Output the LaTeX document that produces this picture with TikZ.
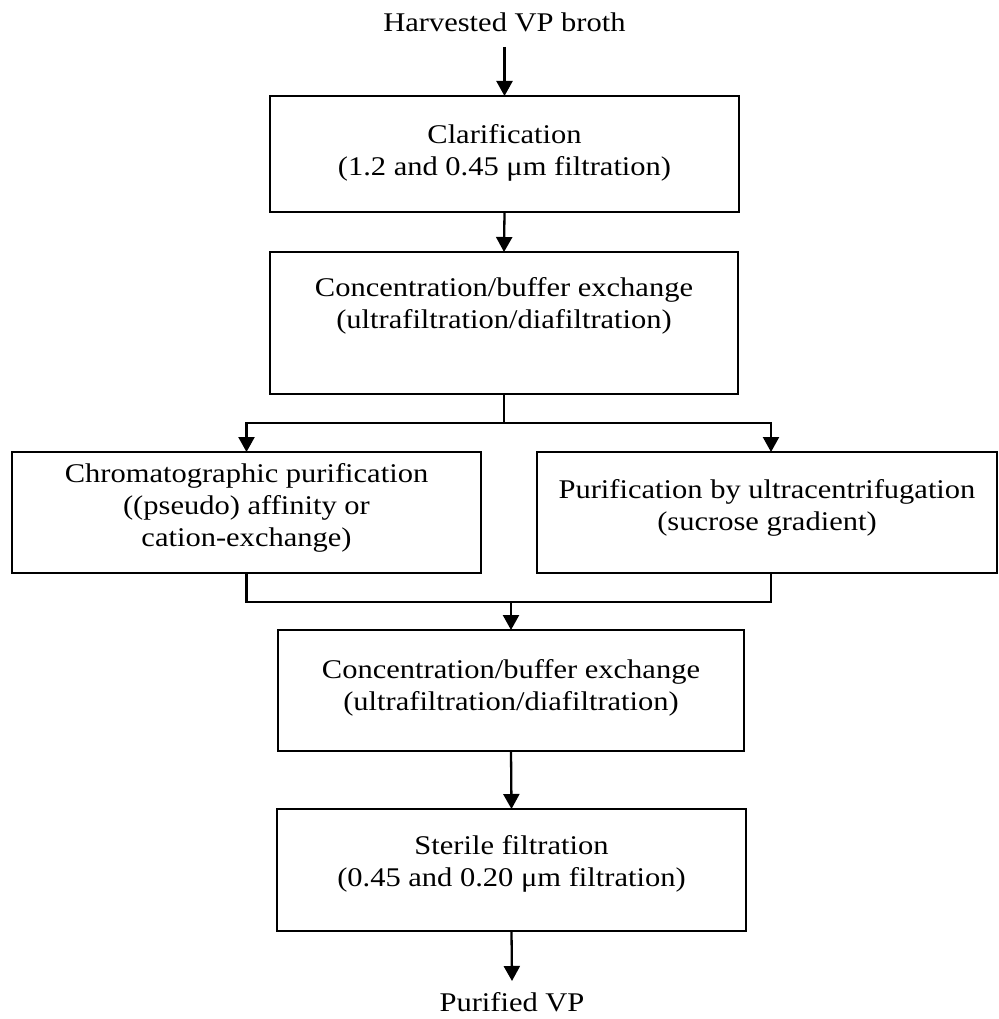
\documentclass[tikz,border=0pt]{standalone}
\usepackage{fontspec}
\setmainfont{Liberation Serif}[FakeStretch=1.13]
\usetikzlibrary{arrows.meta}
\begin{document}
\begin{tikzpicture}[x=1pt,y=-1pt,
  box/.style={draw=black,line width=2.3pt,rectangle,inner sep=0pt,outer sep=0pt},
  txt/.style={inner sep=0pt,outer sep=0pt,align=center,font=\fontsize{27pt}{32pt}\selectfont},
  conn/.style={draw=black,line width=2.3pt},
  arr/.style={conn,-{Triangle[width=16pt,length=15pt]}}]
\useasboundingbox (0,0) rectangle (998,1019);
% labels top and bottom
\node[txt,anchor=base] (top) at (504.5,32) {Harvested VP broth};
\node[txt,anchor=base] (pv) at (512,1011) {Purified VP};
% boxes
\node[box,minimum width=469pt,minimum height=116pt] (b1) at (504.5,154) {};
\node[box,minimum width=468pt,minimum height=142pt] (b2) at (504,323) {};
\node[box,minimum width=469pt,minimum height=121pt] (L) at (246.5,512.5) {};
\node[box,minimum width=460pt,minimum height=121pt] (R) at (767,512.5) {};
\node[box,minimum width=466pt,minimum height=121pt] (b4) at (511,690.5) {};
\node[box,minimum width=469pt,minimum height=122pt] (b5) at (511.5,870) {};
% texts
\node[txt] (t1) at (504.5,152.5) {Clarification\\(1.2 and 0.45 μm filtration)};
\node[txt] (t2) at (504,306) {Concentration/buffer exchange\\(ultrafiltration/diafiltration)};
\node[txt] (tL) at (246.5,508) {Chromatographic purification\\((pseudo) affinity or\\cation-exchange)};
\node[txt] (tR) at (767,508) {Purification by ultracentrifugation\\(sucrose gradient)};
\node[txt] (t4) at (511,687.5) {Concentration/buffer exchange\\(ultrafiltration/diafiltration)};
\node[txt] (t5) at (511.5,863.5) {Sterile filtration\\(0.45 and 0.20 μm filtration)};
% connectors
\draw[arr] ([yshift=-15pt]top.base) -- (b1.north);
\draw[arr] (b1.south) -- (b2.north);
\coordinate (jt) at (504,423);
\draw[conn] (b2.south) -- (jt);
\draw[arr] (jt) -| (L.north);
\draw[arr] (jt) -| ([xshift=4pt]R.north);
\coordinate (jb) at (511,602);
\draw[conn] (L.south) |- (jb);
\draw[conn] ([xshift=4pt]R.south) |- (jb);
\draw[arr] (jb) -- (b4.north);
\draw[arr] (b4.south) -- (b5.north);
\draw[arr] (b5.south) -- ([yshift=30pt]pv.base);
\end{tikzpicture}
\end{document}
